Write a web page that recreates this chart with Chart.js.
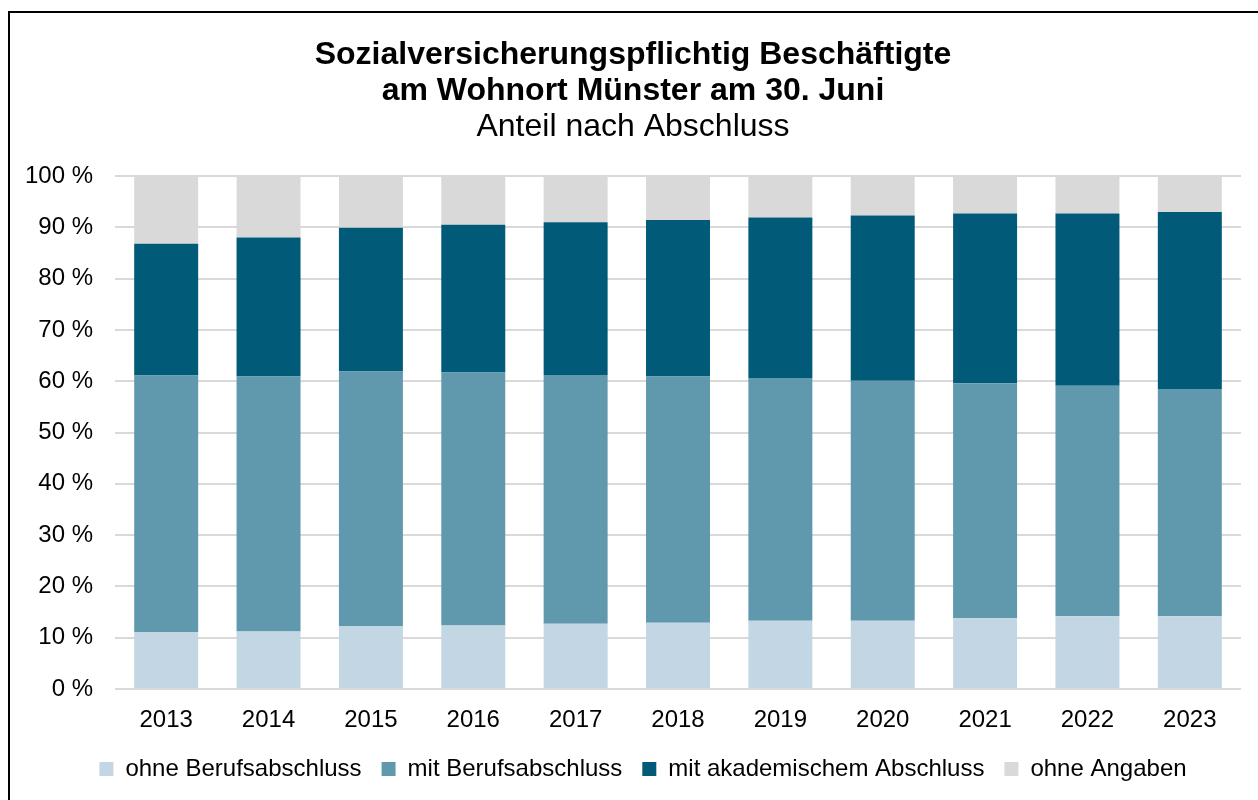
<!DOCTYPE html>
<html lang="de">
<head>
<meta charset="utf-8">
<title>Sozialversicherungspflichtig Beschäftigte</title>
<script src="https://cdn.jsdelivr.net/npm/chart.js@4/dist/chart.umd.min.js"></script>
<style>
	html, body { margin: 0; padding: 0; background: #fff; }
	#wrap { position: relative; width: 1258px; height: 800px; overflow: hidden; }
	#frame {
		position: absolute; left: 8px; top: 11px; width: 1300px; height: 850px;
		border-top: 2px solid #000; border-left: 2px solid #000; pointer-events: none;
	}
</style>
</head>
<body>
<div id="wrap">
	<canvas id="shareChart"></canvas>
	<div id="frame"></div>
</div>
<script>
const YEARS = ['2013', '2014', '2015', '2016', '2017', '2018', '2019', '2020', '2021', '2022', '2023'];

// Anteile in Prozent, von unten nach oben gestapelt
const OHNE_BERUFSABSCHLUSS = [11.1, 11.2, 12.3, 12.4, 12.7, 12.9, 13.3, 13.3, 13.8, 14.2, 14.2];
const MIT_BERUFSABSCHLUSS = [50.0, 49.7, 49.6, 49.3, 48.5, 48.0, 47.3, 46.8, 45.8, 44.9, 44.3];
const MIT_AKADEMISCHEM_ABSCHLUSS = [25.7, 27.1, 28.0, 28.8, 29.8, 30.5, 31.3, 32.2, 33.1, 33.6, 34.5];
const OHNE_ANGABEN = [13.2, 12.0, 10.1, 9.5, 9.0, 8.6, 8.1, 7.7, 7.3, 7.3, 7.0];

const FONT = 'Liberation Sans, Arial, sans-serif';

function makeDataset(label, data, color) {
	return {
		label: label,
		data: data,
		backgroundColor: color,
		borderWidth: 0,
		barPercentage: 0.625,
		categoryPercentage: 1,
	};
}

// Legende ein Stück nach rechts, damit sie mittig unter dem Rahmen steht
const legendShift = {
	id: 'legendShift',
	afterLayout(chart) {
		chart.legend.left += 10;
		chart.legend.right += 10;
	},
};

const ctx = document.querySelector('#shareChart').getContext('2d');

const chart = new Chart(ctx, {
	type: 'bar',
	data: {
		labels: YEARS,
		datasets: [
			makeDataset('ohne Berufsabschluss', OHNE_BERUFSABSCHLUSS, '#C3D6E3'),
			makeDataset('mit Berufsabschluss', MIT_BERUFSABSCHLUSS, '#6099AE'),
			makeDataset('mit akademischem Abschluss', MIT_AKADEMISCHEM_ABSCHLUSS, '#005A78'),
			makeDataset('ohne Angaben', OHNE_ANGABEN, '#D9D9D9'),
		],
	},
	options: {
		responsive: true,
		maintainAspectRatio: false,
		animation: false,
		layout: {
			padding: { left: 25, right: 17, top: 0, bottom: 9 },
		},
		scales: {
			x: {
				stacked: true,
				grid: { display: false, drawTicks: false },
				border: { display: false },
				ticks: {
					color: '#000',
					padding: 17,
					font: { family: FONT, size: 24 },
				},
				afterFit: axis => {
					axis.height = 48;
				},
			},
			y: {
				stacked: true,
				min: 0,
				max: 100,
				grid: { color: '#D9D9D9', lineWidth: 2, drawTicks: false },
				border: { display: false },
				ticks: {
					stepSize: 10,
					color: '#000',
					padding: 22,
					font: { family: FONT, size: 24 },
					callback: value => value + ' %',
				},
				afterFit: axis => {
					axis.width = 90;
				},
			},
		},
		plugins: {
			legend: {
				position: 'bottom',
				labels: {
					color: '#000',
					boxWidth: 14,
					boxHeight: 14,
					padding: 20,
					font: { family: FONT, size: 24 },
				},
			},
			tooltip: { enabled: false },
			title: {
				display: true,
				text: ['Sozialversicherungspflichtig Beschäftigte', 'am Wohnort Münster am 30. Juni'],
				color: '#000',
				font: { family: FONT, size: 32, weight: 'bold', lineHeight: 1.125 },
				padding: { top: 37, bottom: 0 },
			},
			subtitle: {
				display: true,
				text: 'Anteil nach Abschluss',
				color: '#000',
				font: { family: FONT, size: 32, weight: 'normal', lineHeight: 1.125 },
				padding: { top: 0, bottom: 31 },
			},
		},
	},
	plugins: [legendShift],
});
</script>
</body>
</html>
